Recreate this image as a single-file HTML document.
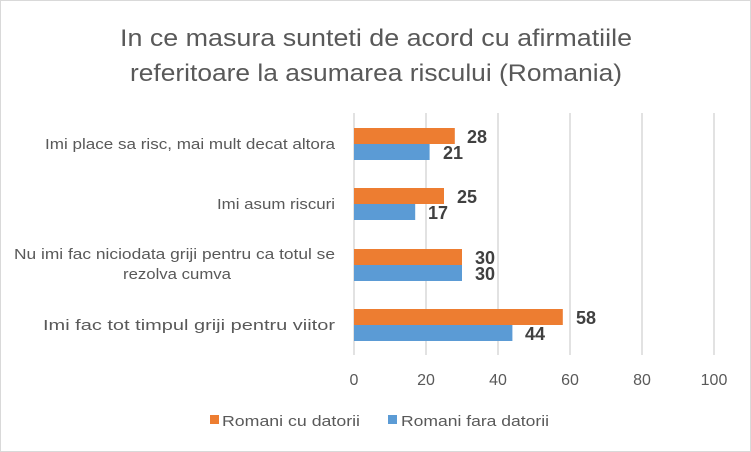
<!DOCTYPE html>
<html><head><style>
body{margin:0;background:#fff}
svg{display:block;font-family:"Liberation Sans",sans-serif}
</style></head><body>
<svg width="751" height="452" viewBox="0 0 751 452">
<rect x="0.5" y="0.5" width="750" height="451" fill="#fff" stroke="#d9d9d9"/>
<text x="120" y="46" font-size="24" fill="#595959" textLength="512" lengthAdjust="spacingAndGlyphs">In ce masura sunteti de acord cu afirmatiile</text>
<text x="130" y="81" font-size="24" fill="#595959" textLength="492" lengthAdjust="spacingAndGlyphs">referitoare la asumarea riscului (Romania)</text>
<g stroke="#d9d9d9" stroke-width="1.5">
<line x1="354" y1="113" x2="354" y2="355"/>
<line x1="426" y1="113" x2="426" y2="355"/>
<line x1="498" y1="113" x2="498" y2="355"/>
<line x1="570" y1="113" x2="570" y2="355"/>
<line x1="642" y1="113" x2="642" y2="355"/>
<line x1="714" y1="113" x2="714" y2="355"/>
</g>
<g fill="#ed7d31">
<rect x="354" y="128" width="100.8" height="16"/>
<rect x="354" y="188" width="90" height="16"/>
<rect x="354" y="249" width="108" height="16"/>
<rect x="354" y="309" width="208.8" height="16"/>
</g>
<g fill="#5b9bd5">
<rect x="354" y="144" width="75.6" height="16"/>
<rect x="354" y="204" width="61.2" height="16"/>
<rect x="354" y="265" width="108" height="16"/>
<rect x="354" y="325" width="158.4" height="16"/>
</g>
<g font-size="18" font-weight="bold" fill="#404040">
<text x="467" y="143">28</text><text x="443" y="159">21</text>
<text x="457" y="203">25</text><text x="428" y="219">17</text>
<text x="475" y="264">30</text><text x="475" y="280">30</text>
<text x="576" y="324">58</text><text x="525" y="340">44</text>
</g>
<g font-size="15" fill="#595959">
<text x="45" y="149" textLength="290" lengthAdjust="spacingAndGlyphs">Imi place sa risc, mai mult decat altora</text>
<text x="217" y="209" textLength="118" lengthAdjust="spacingAndGlyphs">Imi asum riscuri</text>
<text x="14" y="259" textLength="321" lengthAdjust="spacingAndGlyphs">Nu imi fac niciodata griji pentru ca totul se</text>
<text x="123" y="279" textLength="108" lengthAdjust="spacingAndGlyphs">rezolva cumva</text>
<text x="43" y="330" textLength="292" lengthAdjust="spacingAndGlyphs">Imi fac tot timpul griji pentru viitor</text>
</g>
<g font-size="16" fill="#595959" text-anchor="middle">
<text x="354" y="385">0</text><text x="426" y="385">20</text><text x="498" y="385">40</text>
<text x="570" y="385">60</text><text x="642" y="385">80</text><text x="714" y="385">100</text>
</g>
<rect x="210" y="415" width="9" height="9" fill="#ed7d31"/>
<text x="222" y="426" font-size="15" fill="#595959" textLength="138" lengthAdjust="spacingAndGlyphs">Romani cu datorii</text>
<rect x="388" y="415" width="9" height="9" fill="#5b9bd5"/>
<text x="401" y="426" font-size="15" fill="#595959" textLength="148" lengthAdjust="spacingAndGlyphs">Romani fara datorii</text>
</svg>
</body></html>
